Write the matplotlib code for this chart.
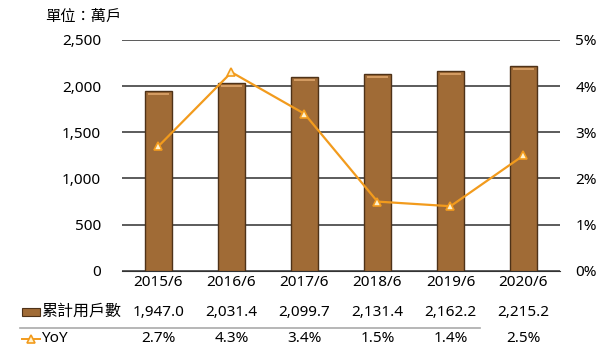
import numpy as np
import matplotlib

matplotlib.use("Agg")
import matplotlib.pyplot as plt
from matplotlib.transforms import blended_transform_factory

plt.rcParams["font.family"] = ["Noto Sans", "Noto Sans CJK TC", "DejaVu Sans"]

periods = ["2015/6", "2016/6", "2017/6", "2018/6", "2019/6", "2020/6"]
subscribers = [1947.0, 2031.4, 2099.7, 2131.4, 2162.2, 2215.2]  # 萬戶
yoy = [2.7, 4.3, 3.4, 1.5, 1.4, 2.5]  # %

bar_label = "累計用戶數"
line_label = "YoY"
unit_label = "單位：萬戶"

BAR_FACE = "#A06B36"
BAR_EDGE = "#4E3218"
BAR_TOP = "#D39B62"
LINE_COL = "#F29B1D"
FS = 11

fig = plt.figure(figsize=(6.1, 3.5), dpi=100)
ax = fig.add_axes([0.2, 0.226, 0.718, 0.66])
x = np.arange(len(periods))

ax.bar(x, subscribers, width=0.38, color=BAR_FACE, edgecolor=BAR_EDGE,
       linewidth=1.0, zorder=3)
# light bevel strip along the top of each bar
ax.bar(x, 18, bottom=np.array(subscribers) - 40, width=0.30,
       color=BAR_TOP, lw=0, zorder=4)
ax.set_ylim(0, 2500)
ax.set_xlim(-0.5, len(periods) - 0.5)
ax.set_yticks(range(0, 2501, 500))
ax.set_yticklabels([f"{v:,}" for v in range(0, 2501, 500)], fontsize=FS)
ax.set_xticks(x)
ax.set_xticklabels(periods, fontsize=FS)
ax.tick_params(length=0, pad=15, axis="y")
ax.tick_params(length=0, pad=3, axis="x")
ax.grid(axis="y", color="#404040", lw=1.2, zorder=0)
for s in ["top", "right", "left"]:
    ax.spines[s].set_visible(False)
ax.spines["bottom"].set_color("#333333")

ax2 = ax.twinx()
ax2.plot(x, yoy, color=LINE_COL, lw=1.6, marker="^", ms=6,
         mfc="#FFF2CC", mec=LINE_COL, mew=1.2, zorder=4)
ax2.set_ylim(0, 5)
ax2.set_yticks(range(0, 6))
ax2.set_yticklabels([f"{v}%" for v in range(0, 6)], fontsize=FS)
ax2.tick_params(length=0, pad=11)
for s in ax2.spines.values():
    s.set_visible(False)

fig.text(0.074, 1 - 17 / 350, unit_label, fontsize=11, va="center")

# data table under the chart
tr = blended_transform_factory(ax.transData, fig.transFigure)
row1_y = 1 - 312 / 350
row2_y = 1 - 339 / 350
for i in x:
    fig.text(i, row1_y, f"{subscribers[i]:,.1f}", transform=tr,
             ha="center", va="center", fontsize=FS)
    fig.text(i, row2_y, f"{yoy[i]:.1f}%", transform=tr,
             ha="center", va="center", fontsize=FS)

fig.text(0.067, row1_y, bar_label, fontsize=11.5, va="center")
fig.patches.append(plt.Rectangle((0.036, row1_y - 0.012), 0.03, 0.024,
                                 transform=fig.transFigure, facecolor=BAR_FACE,
                                 edgecolor=BAR_EDGE, lw=0.8))
fig.lines.append(plt.Line2D([0.036, 0.066], [row2_y, row2_y],
                            transform=fig.transFigure, color=LINE_COL, lw=1.4))
fig.lines.append(plt.Line2D([0.051], [row2_y], transform=fig.transFigure,
                            marker="^", ms=6, mfc="#FFF2CC", mec=LINE_COL,
                            mew=1.2, lw=0))
fig.text(0.067, row2_y, line_label, fontsize=FS, va="center")
fig.lines.append(plt.Line2D([0.033, 0.787], [1 - 328 / 350] * 2,
                            transform=fig.transFigure, color="#AAAAAA", lw=1.2))

fig.savefig("out.png", dpi=100)
